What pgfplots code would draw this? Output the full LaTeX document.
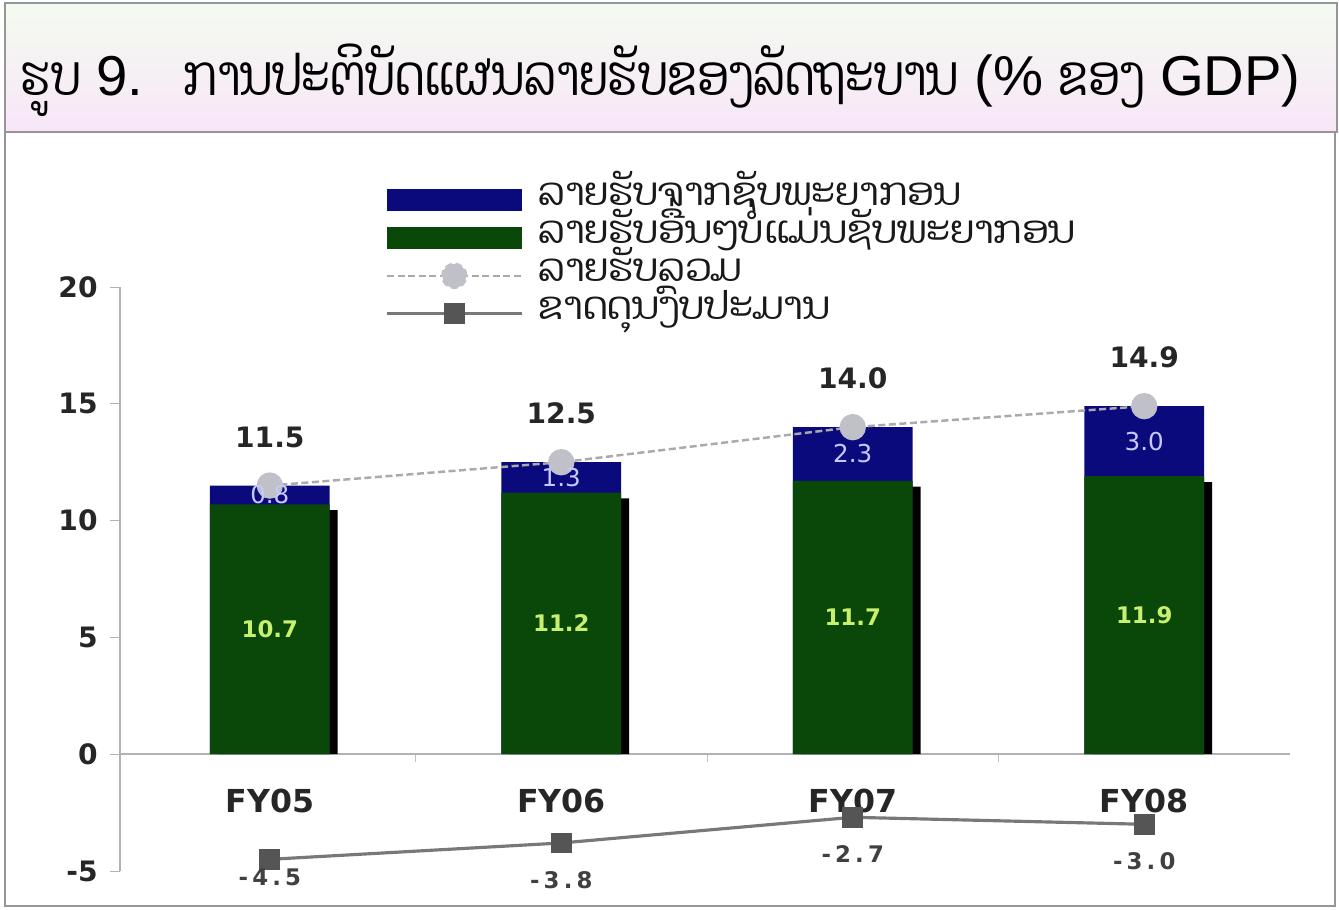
\documentclass[border=0pt]{standalone}
\usepackage{pgfplots}
\pgfplotsset{compat=1.18}
\usepackage{fontspec}
\setmainfont{DejaVu Sans}
\newfontfamily\laofont[Script=Lao]{Dhyana}
\newfontfamily\laotitle[Script=Lao, FakeStretch=0.82]{Dhyana}
\newfontfamily\arialfont{Liberation Sans}
\definecolor{navybar}{RGB}{10,10,125}
\definecolor{greenbar}{RGB}{10,72,10}
\definecolor{totgray}{RGB}{192,192,200}
\definecolor{totline}{RGB}{170,170,170}
\definecolor{defmark}{RGB}{85,85,85}
\definecolor{defline}{RGB}{120,120,120}
\definecolor{bluelbl}{RGB}{200,200,255}
\definecolor{greenlbl}{RGB}{200,240,110}
\definecolor{frame}{RGB}{150,150,150}
\begin{document}
\begin{tikzpicture}
\path[use as bounding box] (0,0) rectangle (13.39,-9.09);
\fill[white] (0,0) rectangle (13.39,-9.09);
% title band
\shade[top color={rgb,255:red,244;green,251;blue,240}, bottom color={rgb,255:red,248;green,230;blue,248}] (0.05,-0.03) rectangle (13.37,-1.32);
\draw[frame, line width=0.8pt] (0.05,-0.03) rectangle (13.37,-1.32);
\draw[frame, line width=0.8pt] (0.05,-1.32) rectangle (13.35,-9.06);
\node[anchor=base west, inner sep=0pt] at (0.20,-0.95) {\fontsize{16}{20}\selectfont\laotitle ຮູບ\arialfont\ 9.\hspace{0.4cm}\laotitle ການປະຕິບັດແຜນລາຍຮັບຂອງລັດຖະບານ\arialfont\ (\%\ \laotitle ຂອງ\arialfont\ GDP)};
\begin{axis}[
  at={(1.20cm,-8.71cm)}, anchor=south west,
  scale only axis, width=11.70cm, height=5.84cm,
  xmin=-0.514, xmax=3.5, ymin=-5, ymax=20,
  clip=false,
  axis x line*=middle, axis y line*=left,
  axis line style={draw=gray!60, line width=0.6pt},
  xtick={0,1,2,3}, xticklabels={FY05,FY06,FY07,FY08},
  major x tick style={draw=none},
  minor xtick={0.5,1.5,2.5},
  minor x tick style={draw=gray!50},
  minor tick length=0.08cm,
  xtick align=outside,
  xticklabel style={font=\bfseries\fontsize{9}{10}\selectfont, text=black!85, yshift=-0.12cm},
  ytick={-5,0,5,10,15,20},
  ytick align=outside, major tick length=0.1cm,
  y tick style={draw=gray!60},
  yticklabel style={font=\bfseries\fontsize{8}{10}\selectfont, text=black!85},
  /pgf/number format/assume math mode=true,
  legend style={at={(0.2265,1.183)}, anchor=north west, draw=none, fill=none,
    inner sep=0pt, row sep=0pt, column sep=0.15cm,
    font=\laofont\fontsize{11}{13}\selectfont, text=black!90,
    nodes={inner sep=0pt, text height=0.25cm, text depth=0.13cm}},
  legend cell align=left,
  deflbl/.style={only marks, mark=none, forget plot,
    nodes near coords, point meta=explicit symbolic,
    nodes near coords style={anchor=north, font=\bfseries\fontsize{6.5}{8}\selectfont\addfontfeatures{LetterSpace=18}, text=black!75}},
]
% shadow of the bars
\addplot[ybar, bar width=0.411, bar shift=0.027, fill=black, draw=none, forget plot]
  coordinates {(0,10.45) (1,10.95) (2,11.45) (3,11.65)};
% resource revenue (drawn from 0 to total, green drawn over)
\addplot[ybar, bar width=0.411, bar shift=0, fill=navybar, draw=none,
  legend image code/.code={\fill[navybar] (0cm,-0.11cm) rectangle (1.35cm,0.11cm);}]
  coordinates {(0,11.5) (1,12.5) (2,14.0) (3,14.9)};
\addlegendentry{ລາຍຮັບຈາກຊັບພະຍາກອນ}
% non-resource revenue
\addplot[ybar, bar width=0.411, bar shift=0, fill=greenbar, draw=none,
  legend image code/.code={\fill[greenbar] (0cm,-0.11cm) rectangle (1.35cm,0.11cm);}]
  coordinates {(0,10.7) (1,11.2) (2,11.7) (3,11.9)};
\addlegendentry{ລາຍຮັບອື່ນໆບໍ່ແມ່ນຊັບພະຍາກອນ}
% total revenue
\addplot[totline, line width=0.7pt, dash pattern=on 2pt off 1pt,
  mark=*, mark size=3.4pt, mark options={solid, fill=totgray, draw=totgray},
  nodes near coords, point meta=explicit symbolic,
  nodes near coords style={anchor=south, yshift=0.25cm, font=\bfseries\fontsize{8}{10}\selectfont, text=black!85},
  legend image code/.code={\draw[totline, line width=0.7pt, dash pattern=on 2pt off 1pt] (0cm,0cm) -- (1.35cm,0cm); \fill[totgray] (0.67cm,0cm) circle (0.12cm);}]
  coordinates {(0,11.5)[11.5] (1,12.5)[12.5] (2,14.0)[14.0] (3,14.9)[14.9]};
\addlegendentry{ລາຍຮັບລວມ}
% budget deficit
\addplot[defline, line width=0.9pt,
  mark=square*, mark size=2.5pt, mark options={fill=defmark, draw=defmark},
  legend image code/.code={\draw[defline, line width=0.9pt] (0cm,0cm) -- (1.35cm,0cm); \fill[defmark] (0.58cm,-0.09cm) rectangle (0.76cm,0.09cm);}]
  coordinates {(0,-4.5) (1,-3.8) (2,-2.7) (3,-3.0)};
\addlegendentry{ຂາດດຸນງົບປະມານ}
% deficit labels
\addplot[deflbl, nodes near coords style={yshift=0.03cm}]
  coordinates {(0,-4.5)[-4.5]};
\addplot[deflbl, nodes near coords style={yshift=-0.16cm}]
  coordinates {(1,-3.8)[-3.8] (2,-2.7)[-2.7] (3,-3.0)[-3.0]};
% labels inside the blue segments
\addplot[only marks, mark=none, forget plot,
  nodes near coords, point meta=explicit symbolic,
  nodes near coords style={anchor=center, font=\fontsize{7}{8}\selectfont, text=bluelbl}]
  coordinates {(0,11.1)[0.8] (1,11.85)[1.3] (2,12.85)[2.3] (3,13.4)[3.0]};
% labels inside the green segments
\addplot[only marks, mark=none, forget plot,
  nodes near coords, point meta=explicit symbolic,
  nodes near coords style={anchor=center, font=\bfseries\fontsize{6.5}{8}\selectfont, text=greenlbl}]
  coordinates {(0,5.35)[10.7] (1,5.6)[11.2] (2,5.85)[11.7] (3,5.95)[11.9]};
\end{axis}
\end{tikzpicture}
\end{document}
